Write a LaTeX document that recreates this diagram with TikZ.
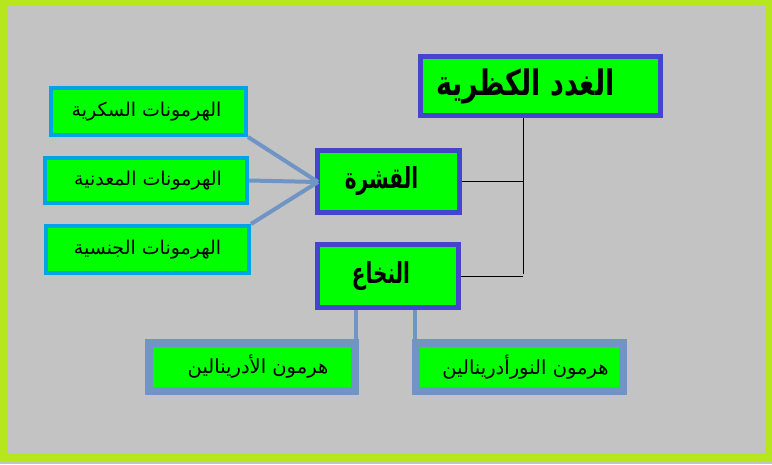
\documentclass[tikz,border=0pt]{standalone}
\usepackage{fontspec}
\usepackage{graphicx}
\newfontfamily\arabicfont[Script=Arabic]{DejaVu Sans}
\TeXXeTstate=1
\definecolor{bggray}{HTML}{C3C3C3}
\definecolor{framelime}{HTML}{B6E61E}
\definecolor{boxgreen}{HTML}{00FF00}
\definecolor{darkblue}{HTML}{4444CC}
\definecolor{cyanblue}{HTML}{00A2E8}
\definecolor{steel}{HTML}{7094C4}
\newcommand{\artext}[1]{\beginR #1\endR}
\tikzset{
  mainbox/.style={draw=darkblue, fill=boxgreen, line width=5pt, inner sep=0pt, font=\arabicfont\bfseries},
  hormbox/.style={draw=cyanblue, fill=boxgreen, line width=4pt, inner sep=0pt, font=\arabicfont\fontsize{19}{22}\selectfont},
  medbox/.style={draw=steel, fill=boxgreen, line width=8pt, inner sep=0pt, font=\arabicfont\fontsize{19.5}{22}\selectfont},
  thinlink/.style={draw=black, line width=1pt},
  thicklink/.style={draw=steel, line width=4pt},
}
\begin{document}
\begin{tikzpicture}[x=1pt,y=-1pt]
\fill[framelime] (0,0) rectangle (772,462);
\fill[bggray] (0,462) rectangle (772,464);
\fill[bggray] (8,6) rectangle (766,453);
\useasboundingbox (0,0) rectangle (772,464);

\coordinate (j) at (523,274);
\coordinate (conv) at (318,182);
\coordinate (m1) at (356,0);
\coordinate (m2) at (415,0);

\node[mainbox, minimum width=240pt, minimum height=59pt] (top) at (540.5,86) {\fontsize{27}{30}\selectfont\raisebox{2pt}{\scalebox{1}[1.3]{\artext{الغدد الكظرية}}}\kern30pt};
\node[mainbox, minimum width=142pt, minimum height=62pt] (cortex) at (388.5,181.5) {\fontsize{20}{24}\selectfont\scalebox{1}[1.45]{\artext{القشرة}}\kern14pt};
\node[mainbox, minimum width=141pt, minimum height=63pt] (medulla) at (388,276) {\fontsize{20}{24}\selectfont\scalebox{1}[1.45]{\artext{النخاع}}\kern14pt};

\node[hormbox, minimum width=195pt, minimum height=47pt] (h1) at (148.5,111.5) {\artext{الهرمونات السكرية}\kern4pt};
\node[hormbox, minimum width=202pt, minimum height=45pt] (h2) at (146,180.5) {\kern4pt\artext{الهرمونات المعدنية}};
\node[hormbox, minimum width=203pt, minimum height=47pt] (h3) at (147.5,249.5) {\artext{الهرمونات الجنسية}};

\node[medbox, minimum width=206pt, minimum height=48pt] (adr) at (252,367) {\kern12pt\artext{هرمون الأدرينالين}};
\node[medbox, minimum width=207pt, minimum height=48pt] (nor) at (519.5,367) {\kern12pt\artext{هرمون النورأدرينالين}};

\draw[thinlink] (top.south -| j) -- (j);
\draw[thinlink] (cortex.east) -- (cortex.east -| j);
\draw[thinlink] (medulla.east) -- (medulla.east -| j);

\draw[thicklink] (h1.south east) -- (conv);
\draw[thicklink] (h2.east) -- (conv);
\draw[thicklink] (h3.north east) -- (conv);

\draw[thicklink] (medulla.south -| m1) -- (adr.north -| m1);
\draw[thicklink] (medulla.south -| m2) -- (nor.north -| m2);
\end{tikzpicture}
\end{document}
